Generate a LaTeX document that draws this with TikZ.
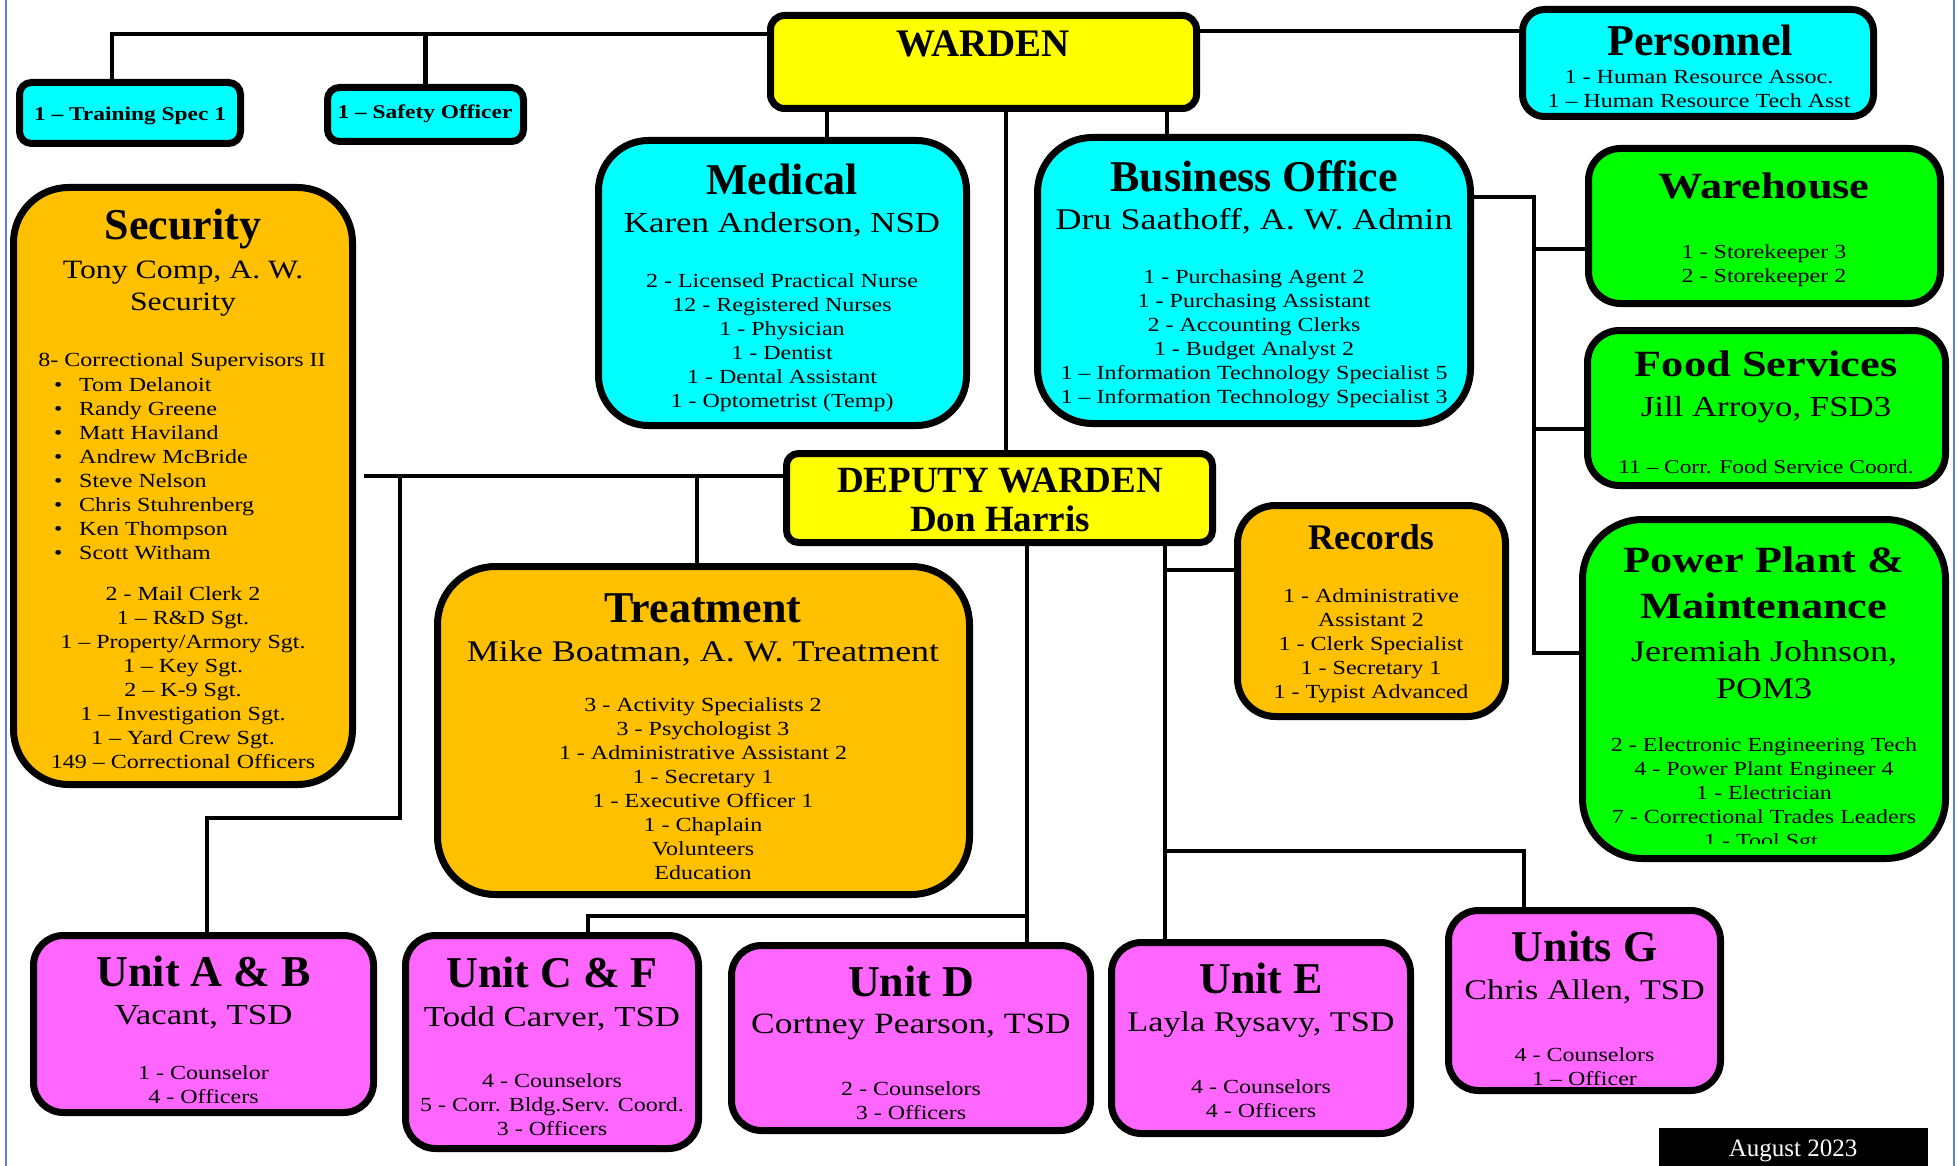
\documentclass[tikz,border=0pt]{standalone}
\usepackage{fontspec}
\setmainfont{Liberation Serif}
\newfontfamily\bodyf[FakeStretch=1.2]{Liberation Serif}
\definecolor{cyanb}{HTML}{00FFFF}
\definecolor{yel}{HTML}{FFFF00}
\definecolor{orng}{HTML}{FFC000}
\definecolor{grn}{HTML}{00FF00}
\definecolor{mag}{HTML}{FF66FF}
\definecolor{framecol}{HTML}{5B7BF0}
\newcommand{\fz}[2]{\fontsize{#1}{#2}\selectfont}
\pgfdeclarelayer{bg}
\pgfsetlayers{bg,main}
\begin{document}
\begin{tikzpicture}[x=1pt,y=-1pt,
  orgbox/.style={draw=black,line width=7pt,rounded corners=#1,inner sep=0pt},
  conn/.style={draw=black,line width=4.5pt},
  txt/.style={inner sep=0pt,align=center},
  ttl/.style={txt,font=\bfseries\fz{44}{48}},
  wttl/.style={txt,font=\bodyf\bfseries\fz{37}{46}},
  sub/.style={txt,font=\bodyf\fz{#1}{#1}},
  body/.style={txt,font=\bodyf\fz{20}{24}}
]
\useasboundingbox (0,0) rectangle (1959,1166);
\draw[framecol,line width=2pt] (6,0) -- (6,1166);
\draw[framecol,line width=2pt] (1954,0) -- (1954,1166);

% ---------- boxes ----------
\node[orgbox=12pt,fill=cyanb,minimum width=221pt,minimum height=61pt] (training) at (130,113) {};
\node[orgbox=12pt,fill=cyanb,minimum width=196pt,minimum height=54pt] (safety) at (425.5,114.5) {};
\node[orgbox=14pt,fill=yel,minimum width=426pt,minimum height=93pt] (warden) at (983.5,62) {};
\node[orgbox=22pt,fill=cyanb,minimum width=351pt,minimum height=107pt] (personnel) at (1698,63) {};
\node[orgbox=50pt,fill=cyanb,minimum width=368pt,minimum height=285pt] (medical) at (782.5,283) {};
\node[orgbox=55pt,fill=cyanb,minimum width=433pt,minimum height=286pt] (business) at (1254,280.5) {};
\node[orgbox=32pt,fill=grn,minimum width=352pt,minimum height=155pt] (warehouse) at (1764.5,226) {};
\node[orgbox=32pt,fill=grn,minimum width=358pt,minimum height=155pt] (food) at (1766.5,408) {};
\node[orgbox=60pt,fill=grn,minimum width=363pt,minimum height=339pt] (power) at (1764,689) {};
\node[orgbox=55pt,fill=orng,minimum width=339pt,minimum height=597pt] (security) at (183,486) {};
\node[orgbox=12pt,fill=yel,minimum width=426pt,minimum height=89pt] (deputy) at (999.5,498) {};
\node[orgbox=38pt,fill=orng,minimum width=268pt,minimum height=211pt] (records) at (1371.5,611) {};
\node[orgbox=58pt,fill=orng,minimum width=532pt,minimum height=328pt] (treatment) at (703.5,730.5) {};
\node[orgbox=30pt,fill=mag,minimum width=340pt,minimum height=177pt] (unitab) at (203.5,1024) {};
\node[orgbox=30pt,fill=mag,minimum width=293pt,minimum height=213pt] (unitcf) at (552,1042) {};
\node[orgbox=30pt,fill=mag,minimum width=359pt,minimum height=185pt] (unitd) at (911,1038) {};
\node[orgbox=30pt,fill=mag,minimum width=299pt,minimum height=191pt] (unite) at (1261,1038) {};
\node[orgbox=30pt,fill=mag,minimum width=272pt,minimum height=180pt] (unitg) at (1584.5,1000.5) {};
\node[fill=black,inner sep=0pt,minimum width=269pt,minimum height=52pt] (august) at (1793.5,1154) {};

% ---------- connectors ----------
\coordinate (tl) at (112,34);
\coordinate (pr) at (0,31);
\coordinate (md) at (827,0);
\coordinate (bo) at (1167,0);
\coordinate (dw) at (1006,0);
\coordinate (gb) at (1534,197);
\coordinate (gw) at (1534,249);
\coordinate (gf) at (1534,429);
\coordinate (gp) at (1534,653);
\coordinate (dl) at (364,476);
\coordinate (tv) at (697,476);
\coordinate (av) at (400,476);
\coordinate (ab) at (400,818);
\coordinate (ab2) at (207,818);
\coordinate (dd) at (1027,0);
\coordinate (cf) at (1027,916);
\coordinate (cf2) at (588,916);
\coordinate (ev) at (1165,0);
\coordinate (rc) at (1165,570);
\coordinate (g1) at (1165,851);
\coordinate (g2) at (1524,851);
\begin{pgfonlayer}{bg}
\draw[conn] (training.north -| tl) -- (tl) -- (warden.west |- tl);
\draw[conn] (safety.north) -- (safety.north |- tl);
\draw[conn] (warden.east |- pr) -- (personnel.west |- pr);
\draw[conn] (warden.south -| md) -- (medical.north -| md);
\draw[conn] (warden.south -| bo) -- (business.north -| bo);
\draw[conn] (warden.south -| dw) -- (deputy.north -| dw);
\draw[conn] (business.east |- gb) -- (gb) -- (gp) -- (power.west |- gp);
\draw[conn] (gw) -- (warehouse.west |- gw);
\draw[conn] (gf) -- (food.west |- gf);
\draw[conn] (dl) -- (deputy.west |- dl);
\draw[conn] (tv) -- (treatment.north -| tv);
\draw[conn] (av) -- (ab) -- (ab2) -- (unitab.north -| ab2);
\draw[conn] (deputy.south -| dd) -- (unitd.north -| dd);
\draw[conn] (cf) -- (cf2) -- (unitcf.north -| cf2);
\draw[conn] (deputy.south -| ev) -- (unite.north -| ev);
\draw[conn] (rc) -- (records.west |- rc);
\draw[conn] (g1) -- (g2) -- (unitg.north -| g2);
\end{pgfonlayer}

% ---------- texts ----------
\node[txt,font=\bodyf\bfseries\fz{19.5}{22}] (t-training) at (130,116) {1 – Training Spec 1};
\node[txt,font=\bodyf\bfseries\fz{19.5}{22}] (t-safety) at (425,114) {1 – Safety Officer};
\node[txt,font=\bfseries\fz{39}{42}] (t-warden) at (983,44) {WARDEN};

\node[ttl] (t-pers) at (1700,40) {Personnel};
\node[body] (b-pers) at (1699,89) {1 - Human Resource Assoc.\\1 – Human Resource Tech Asst};

\node[ttl] (t-med) at (782,179) {Medical};
\node[sub=29] (s-med) at (782,225) {Karen Anderson, NSD};
\node[body] (b-med) at (782,343) {2 - Licensed Practical Nurse\\12 - Registered Nurses\\1 - Physician\\1 - Dentist\\1 - Dental Assistant\\1 - Optometrist (Temp)};

\node[ttl] (t-bus) at (1254,176) {Business Office};
\node[sub=30] (s-bus) at (1254,221) {Dru Saathoff, A. W. Admin};
\node[body] (b-bus) at (1254,339) {1 - Purchasing Agent 2\\1 - Purchasing Assistant\\2 - Accounting Clerks\\1 - Budget Analyst 2\\1 – Information Technology Specialist 5\\1 – Information Technology Specialist 3};

\node[wttl] (t-ware) at (1764,186) {Warehouse};
\node[body] (b-ware) at (1764,266) {1 - Storekeeper 3\\2 - Storekeeper 2};

\node[wttl] (t-food) at (1766,364) {Food Services};
\node[sub=29] (s-food) at (1766,410) {Jill Arroyo, FSD3};
\node[body,font=\bodyf\fz{19.5}{24}] (b-food) at (1766,467) {11 – Corr. Food Service Coord.};

\node[wttl] (t-power) at (1764,583) {Power Plant \&\\Maintenance};
\node[txt,font=\bodyf\fz{30}{37}] (s-power) at (1764,670) {Jeremiah Johnson,\\POM3};
\node[body] (b-power) at (1764,781) {2 - Electronic Engineering Tech\\4 - Power Plant Engineer 4\\1 - Electrician\\7 - Correctional Trades Leaders};
\begin{scope}
\clip (1600,825) rectangle (1930,843);
\node[body] (b-power2) at (1764,843) {1 - Tool Sgt.};
\end{scope}

\node[ttl] (t-sec) at (183,229) {Security};
\node[txt,font=\bodyf\fz{26.5}{32}] (s-sec) at (183,289) {Tony Comp, A. W.\\Security};
\node[body] (b-sec1) at (182,362) {8- Correctional Supervisors II};
\node[body,align=left,anchor=west] (b-sec2) at (54,469) {\makebox[25pt][l]{•}Tom Delanoit\\\makebox[25pt][l]{•}Randy Greene\\\makebox[25pt][l]{•}Matt Haviland\\\makebox[25pt][l]{•}Andrew McBride\\\makebox[25pt][l]{•}Steve Nelson\\\makebox[25pt][l]{•}Chris Stuhrenberg\\\makebox[25pt][l]{•}Ken Thompson\\\makebox[25pt][l]{•}Scott Witham};
\node[body] (b-sec3) at (183,678) {2 - Mail Clerk 2\\1 – R\&D Sgt.\\1 – Property/Armory Sgt.\\1 – Key Sgt.\\2 – K-9 Sgt.\\1 – Investigation Sgt.\\1 – Yard Crew Sgt.\\149 – Correctional Officers};

\node[txt,font=\bfseries\fz{37}{39}] (t-dep) at (1000,499.5) {DEPUTY WARDEN\\Don Harris};

\node[txt,font=\bfseries\fz{36}{40}] (t-rec) at (1371,537) {Records};
\node[body] (b-rec) at (1371,646) {1 - Administrative\\Assistant 2\\1 - Clerk Specialist\\1 - Secretary 1\\1 - Typist Advanced};

\node[ttl] (t-treat) at (703,608) {Treatment};
\node[sub=30] (s-treat) at (703,653) {Mike Boatman, A. W. Treatment};
\node[body] (b-treat) at (703,789) {3 - Activity Specialists 2\\3 - Psychologist 3\\1 - Administrative Assistant 2\\1 - Secretary 1\\1 - Executive Officer 1\\1 - Chaplain\\Volunteers\\Education};

\node[ttl] (t-ab) at (203.5,971) {Unit A \& B};
\node[sub=29] (s-ab) at (203.5,1017) {Vacant, TSD};
\node[body] (b-ab) at (203.5,1085) {1 - Counselor\\4 - Officers};

\node[ttl] (t-cf) at (552,972) {Unit C \& F};
\node[sub=29] (s-cf) at (552,1019) {Todd Carver, TSD};
\node[body] (b-cf) at (552,1105) {4 - Counselors\\5 - Corr. Bldg.Serv. Coord.\\3 - Officers};

\node[ttl] (t-d) at (911,981) {Unit D};
\node[sub=29.5] (s-d) at (911,1027) {Cortney Pearson, TSD};
\node[body] (b-d) at (911,1101) {2 - Counselors\\3 - Officers};

\node[ttl] (t-e) at (1261,978) {Unit E};
\node[sub=28.5] (s-e) at (1261,1025) {Layla Rysavy, TSD};
\node[body] (b-e) at (1261,1099) {4 - Counselors\\4 - Officers};

\node[ttl] (t-g) at (1584.5,946) {Units G};
\node[sub=28.5] (s-g) at (1584.5,992) {Chris Allen, TSD};
\node[body] (b-g) at (1584.5,1067) {4 - Counselors\\1 – Officer};

\node[txt,text=white,font=\fz{25}{28}] (t-aug) at (1793,1151) {August 2023};
\end{tikzpicture}
\end{document}
